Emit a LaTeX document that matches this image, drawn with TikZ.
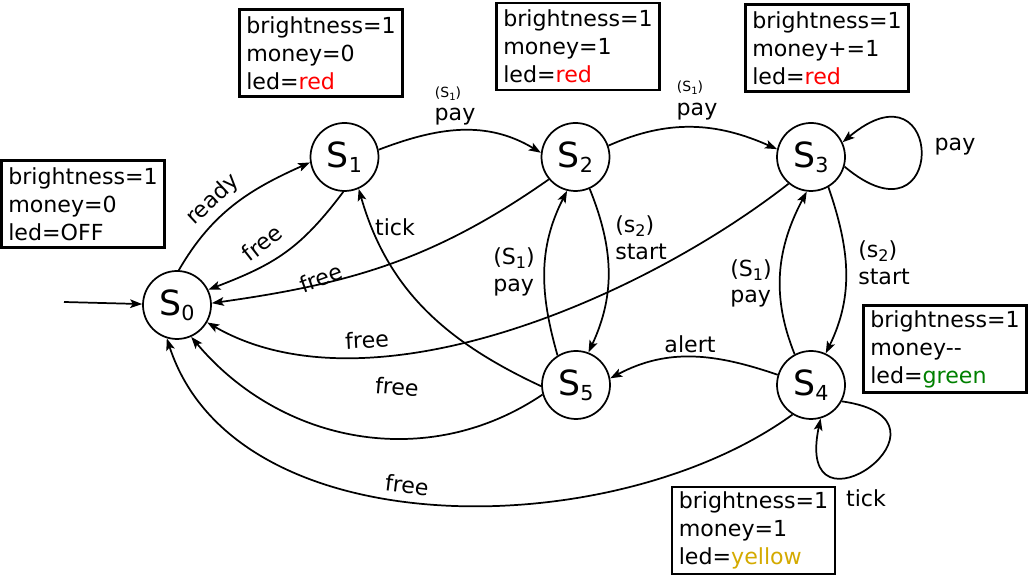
\documentclass[tikz,border=0pt]{standalone}
\usepackage{fontspec}
\setmainfont{DejaVu Sans}
\usetikzlibrary{arrows.meta}
\definecolor{ledgreen}{RGB}{0,128,0}
\definecolor{ledyellow}{RGB}{212,170,0}
\definecolor{ledred}{RGB}{255,0,0}
\newcommand{\stlabel}[1]{{\fontsize{26}{26}\selectfont S}\raisebox{-4pt}{\fontsize{15.5}{15.5}\selectfont #1}}
\newcommand{\sbig}[2]{(#1\raisebox{-3pt}{\fontsize{12}{12}\selectfont #2})}
\newcommand{\ssmall}[2]{{\fontsize{10.5}{10.5}\selectfont(#1\raisebox{-2pt}{\fontsize{7.5}{7.5}\selectfont #2})}}
\begin{document}
\begin{tikzpicture}[x=0.75pt,y=0.75pt,
  state/.style={circle, draw, line width=1.3pt, minimum size=51pt, inner sep=0pt},
  infobox/.style={draw, line width=1.8pt, minimum width=121pt, minimum height=65.5pt, align=left, inner xsep=5pt, font=\fontsize{16.6}{21}\selectfont},
  lbl/.style={font=\fontsize{16.6}{20}\selectfont, inner sep=0pt, align=left},
  edge/.style={line width=1.3pt, -{Stealth[length=9pt,width=6.5pt,inset=2pt]}}]
\useasboundingbox (0,0) rectangle (1028,577);

% states
\node[state] (S0) at (177,272) {\stlabel{0}};
\node[state] (S1) at (344.5,420) {\stlabel{1}};
\node[state] (S2) at (575.5,420) {\stlabel{2}};
\node[state] (S3) at (811,420) {\stlabel{3}};
\node[state] (S4) at (811,192) {\stlabel{4}};
\node[state] (S5) at (576,192) {\stlabel{5}};

% info boxes
\node[infobox] (B0) at (83,373) {brightness=1\\money=0\\led=OFF};
\node[infobox] (B1) at (321,524) {brightness=1\\money=0\\led=\textcolor{ledred}{red}};
\node[infobox] (B2) at (578,530.5) {brightness=1\\money=1\\led=\textcolor{ledred}{red}};
\node[infobox] (B3) at (827,529) {brightness=1\\money+=1\\led=\textcolor{ledred}{red}};
\node[infobox] (B4) at (945,228) {brightness=1\\money-\kern0pt-\\led=\textcolor{ledgreen}{green}};
\node[infobox] (B5) at (753.5,46.5) {brightness=1\\money=1\\led=\textcolor{ledyellow}{yellow}};

% initial arrow
\coordinate (init) at (64,275);
\draw[edge] (init) -- (S0);

% transitions
\draw[edge] (S0.87) to[out=60,in=204] (S1.189);
\draw[edge] (S1.-92) to[out=233,in=21,looseness=1.1] (S0.26);
\draw[edge] (S2.220) to[out=215,in=8] (S0.3);
\draw[edge] (S3.230) to[out=218,in=330,looseness=0.8] (S0.-30);
\draw[edge] (S5.196) to[out=214,in=310] (S0.-66);
\draw[edge] (S4.238) to[out=216,in=288,looseness=0.9] (S0.253);
\draw[edge] (S5.182) to[out=155,in=286] (S1.294);
\draw[edge] (S1.12) to[out=21,in=149] (S2.173);
\draw[edge] (S2.19) to[out=24,in=156] (S3.167);
\draw[edge] (S3.-16) to[out=-40,in=40,distance=101pt] (S3.25);
\draw[edge] (S2.-66) to[out=-68,in=65] (S5.69);
\draw[edge] (S5.122) to[out=106,in=243] (S2.-104);
\draw[edge] (S3.-60) to[out=-71,in=64] (S4.65);
\draw[edge] (S4.118) to[out=112,in=242] (S3.-97);
\draw[edge] (S4.163) to[out=161,in=28] (S5.11);
\draw[edge] (S4.-28) to[out=-8,in=258,distance=100pt] (S4.-74);

% labels
\node[lbl, rotate=43] (Lready) at (213,377) {ready};
\node[lbl, rotate=38] (Lfree1) at (262,334) {free};
\node[lbl, rotate=20] (Lfree2) at (321,299) {free};
\node[lbl, rotate=3] (Lfree3) at (367,237) {free};
\node[lbl, rotate=-5] (Lfree5) at (397,190) {free};
\node[lbl, rotate=-7] (Lfree4) at (407,92) {free};
\node[lbl] (Ltick) at (395,350) {tick};
\node[lbl] (Lsub12) at (448,483.5) {\ssmall{S}{1}};
\node[lbl] (Lpay12) at (455,460) {pay};
\node[lbl] (Lsub23) at (690,489) {\ssmall{S}{1}};
\node[lbl] (Lpay23) at (697,465) {pay};
\node[lbl] (Lpay3) at (955,430) {pay};
\node[lbl, anchor=west] (Lstart25) at (615,339.5) {\sbig{s}{2}\\start};
\node[lbl, anchor=west] (Lpay52) at (493,305) {\sbig{S}{1}\\pay};
\node[lbl, anchor=west] (Lstart34) at (858,314.5) {\sbig{s}{2}\\start};
\node[lbl, anchor=west] (Lpay43) at (730,293.5) {\sbig{S}{1}\\pay};
\node[lbl] (Lalert) at (690,233) {alert};
\node[lbl] (Ltick4) at (866,79) {tick};
\end{tikzpicture}
\end{document}
